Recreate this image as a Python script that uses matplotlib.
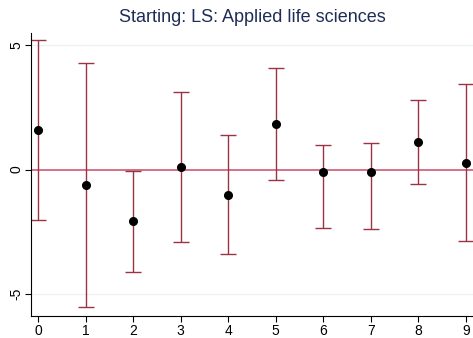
import matplotlib
matplotlib.use("Agg")
import matplotlib.pyplot as plt
import numpy as np

x = [0, 1, 2, 3, 4, 5, 6, 7, 8, 9]
est = [1.58, -0.63, -2.08, 0.10, -1.01, 1.82, -0.11, -0.11, 1.12, 0.28]
upper = [5.21, 4.28, -0.05, 3.11, 1.38, 4.08, 0.98, 1.06, 2.79, 3.43]
lower = [-2.04, -5.54, -4.13, -2.93, -3.41, -0.43, -2.36, -2.40, -0.58, -2.89]
yticks = [-5, 0, 5]
title = "Starting: LS: Applied life sciences"

plt.rcParams['font.family'] = ['Liberation Sans', 'DejaVu Sans']

fig = plt.figure(figsize=(4.73, 3.38), dpi=100)
ax = fig.add_axes([31/473, 1-316/338, 1-31/473, (316-33)/338])

ax.set_xlim(-0.147, 9.15)
ax.set_ylim(-5.89, 5.49)

for yv in yticks:
    if yv != 0:
        ax.axhline(yv, color='#eef2f3', lw=1.0, zorder=0)
ax.axhline(0, color='#cc5a75', lw=1.2, zorder=1)

est_a = np.array(est); up_a = np.array(upper); lo_a = np.array(lower)
ax.errorbar(x, est_a, yerr=[est_a - lo_a, up_a - est_a], fmt='none',
            ecolor='#9a3445', elinewidth=1.0, capsize=5.5, capthick=1.0, zorder=2)
ax.plot(x, est, 'o', color='black', markersize=5.5, zorder=3)

ax.set_xticks(x)
ax.set_xticklabels([str(v) for v in x])
ax.set_yticks(yticks)
ax.set_yticklabels([str(v) for v in yticks], rotation=90, va='center')
ax.tick_params(axis='both', labelsize=10, length=4, width=0.8, colors='black', pad=1.5)

for s in ['top', 'right']:
    ax.spines[s].set_visible(False)
for s in ['left', 'bottom']:
    ax.spines[s].set_linewidth(0.8)

fig.text(252/473, 1 - 18/338, title, ha='center', va='center', fontsize=13, color='#1e2d55')

fig.savefig('out.png', dpi=100)
